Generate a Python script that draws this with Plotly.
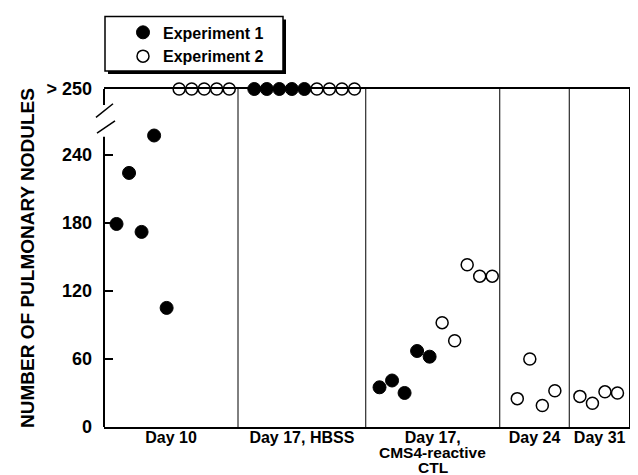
import plotly.graph_objects as go

# ---------------- data ----------------
panels = ["Day 10", "Day 17, HBSS", "Day 17,", "Day 24", "Day 31"]
ctl_extra_lines = ["CMS4-reactive", "CTL"]
GT250 = 298  # plotting level of the "> 250" band (top of axis)

# values per panel, Experiment 1 (filled) then Experiment 2 (open)
exp1_day10 = [179, 224, 172, 257, 105]
exp1_hbss = [GT250, GT250, GT250, GT250, GT250]
exp1_ctl = [35, 41, 30, 67, 62]
exp1_day24 = []
exp1_day31 = []

exp2_day10 = [GT250, GT250, GT250, GT250, GT250]
exp2_hbss = [GT250, GT250, GT250, GT250]
exp2_ctl = [92, 76, 143, 133, 133]
exp2_day24 = [25, 60, 19, 32]
exp2_day31 = [27, 21, 31, 30]

y_tickvals = [0, 60, 120, 180, 240, GT250]
y_ticktext = ["0", "60", "120", "180", "240", "> 250"]

# ---------------- layout helpers ----------------
panel_first_slot = [1, 12, 22, 33, 38]
panel_edges = [0, 10.7, 20.9, 31.6, 37.15, 42]
panel_centers = [(panel_edges[i] + panel_edges[i + 1]) / 2 for i in range(5)]

exp1 = [exp1_day10, exp1_hbss, exp1_ctl, exp1_day24, exp1_day31]
exp2 = [exp2_day10, exp2_hbss, exp2_ctl, exp2_day24, exp2_day31]

x1, y1, x2, y2 = [], [], [], []
for p in range(5):
    s = panel_first_slot[p]
    for v in exp1[p]:
        x1.append(s); y1.append(v); s += 1
    for v in exp2[p]:
        x2.append(s); y2.append(v); s += 1

FONT = "Liberation Sans, Arial, Helvetica, sans-serif"

# page body has an 8px margin: figure is placed at (8, 8) in the window
W, H = 630, 467
ML, MR, MT, MB = 96, 8, 79, 48
PW = W - ML - MR  # 526
PH = H - MT - MB  # 340


def px_x(page_x):
    return (page_x - 8 - ML) / PW


def px_y(page_y):
    return (H - MB - (page_y - 8)) / PH


# legend frame (page pixels)
BOX_L, BOX_T, BOX_R, BOX_B = 105, 14, 283, 69
SHADOW = 3

fig = go.Figure()
fig.add_trace(go.Scatter(
    x=x1, y=y1, mode="markers", name="Experiment 1", cliponaxis=False,
    marker=dict(size=13, color="black", line=dict(color="black", width=1)),
))
fig.add_trace(go.Scatter(
    x=x2, y=y2, mode="markers", name="Experiment 2", cliponaxis=False,
    marker=dict(size=12, color="white", line=dict(color="black", width=1.5)),
))

shapes = []
# legend frame with drop shadow
shapes.append(dict(type="rect", xref="paper", yref="paper",
                   x0=px_x(BOX_L + SHADOW), x1=px_x(BOX_R + SHADOW),
                   y0=px_y(BOX_T + SHADOW), y1=px_y(BOX_B + SHADOW),
                   fillcolor="black", line=dict(width=0), layer="above"))
shapes.append(dict(type="rect", xref="paper", yref="paper",
                   x0=px_x(BOX_L), x1=px_x(BOX_R), y0=px_y(BOX_T), y1=px_y(BOX_B),
                   fillcolor="white", line=dict(color="black", width=1.5), layer="above"))
# panel dividers
for e in panel_edges[1:-1]:
    shapes.append(dict(type="line", xref="x", yref="y", x0=e, x1=e, y0=0, y1=GT250,
                       line=dict(color="black", width=1)))
# right border
shapes.append(dict(type="line", xref="x", yref="y", x0=42, x1=42, y0=0, y1=GT250,
                   line=dict(color="black", width=2)))
# broken left axis
shapes.append(dict(type="line", xref="paper", yref="y", x0=0, x1=0, y0=0, y1=256,
                   line=dict(color="black", width=2)))
shapes.append(dict(type="line", xref="paper", yref="y", x0=0, x1=0, y0=284, y1=GT250,
                   line=dict(color="black", width=2)))
# break slashes
shapes.append(dict(type="line", xref="paper", yref="y", x0=px_x(96), x1=px_x(113), y0=273, y1=285,
                   line=dict(color="black", width=1.5)))
shapes.append(dict(type="line", xref="paper", yref="y", x0=px_x(97), x1=px_x(115), y0=259, y1=270,
                   line=dict(color="black", width=1.5)))

annotations = []
for i, t in enumerate(ctl_extra_lines):
    annotations.append(dict(text=t, xref="x", yref="paper", x=panel_centers[2], y=0,
                            yanchor="middle", yshift=-25 - 15 * i, showarrow=False,
                            font=dict(family=FONT, size=15.5, color="black", weight="bold")))

fig.update_layout(
    width=W, height=H,
    margin=dict(l=ML, r=MR, t=MT, b=MB, pad=0),
    plot_bgcolor="white", paper_bgcolor="white",
    font=dict(family=FONT, color="black", weight="bold"),
    showlegend=True,
    legend=dict(x=px_x(BOX_L), y=px_y(13), xanchor="left", yanchor="top",
                bgcolor="rgba(0,0,0,0)", borderwidth=0,
                font=dict(family=FONT, size=16, color="black", weight="bold"),
                indentation=18),
    xaxis=dict(range=[0, 42], showline=True, mirror=True, linecolor="black", linewidth=1.5,
               showgrid=False, zeroline=False, ticks="", ticklabelstandoff=-5,
               tickvals=panel_centers, ticktext=panels,
               tickfont=dict(family=FONT, size=16, color="black", weight="bold")),
    yaxis=dict(range=[0, GT250], showline=False, showgrid=False, zeroline=False,
               ticks="inside", ticklen=9, tickwidth=1.5, tickcolor="black",
               tickvals=y_tickvals, ticktext=y_ticktext, ticklabelstandoff=11,
               tickfont=dict(family=FONT, size=18, color="black", weight="bold"),
               title=dict(text="NUMBER OF PULMONARY NODULES", standoff=6,
                          font=dict(family=FONT, size=19, color="black", weight="bold"))),
    shapes=shapes,
    annotations=annotations,
)

fig.write_html("out.html")
